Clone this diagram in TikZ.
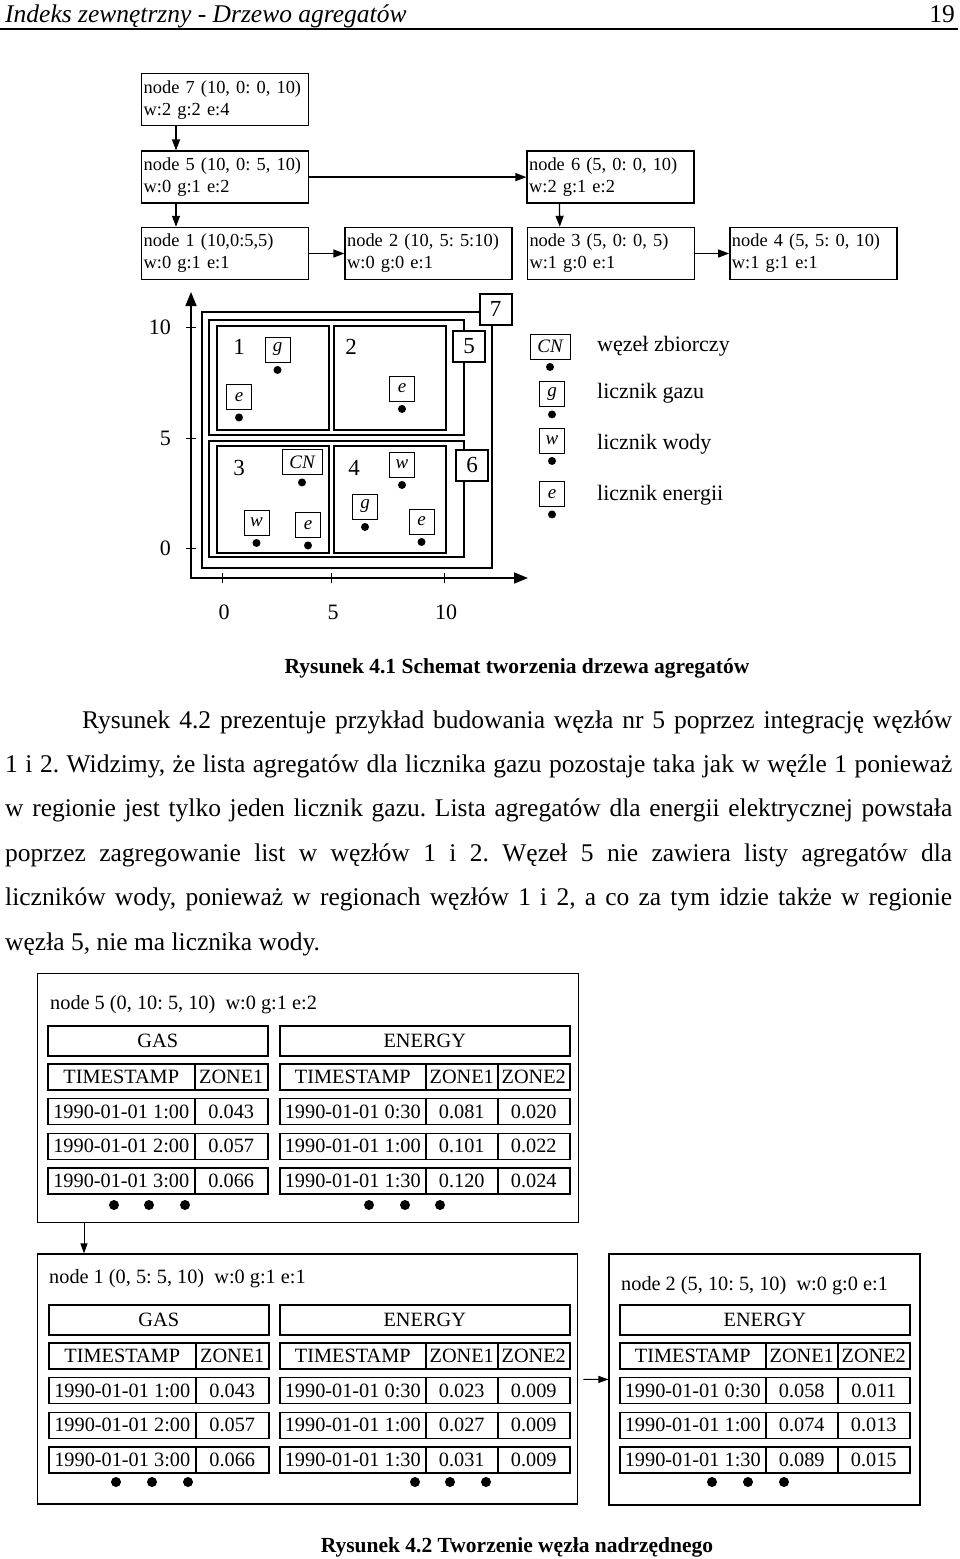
\documentclass[tikz,border=0pt]{standalone}
\usepackage{fontspec}
\setmainfont{Liberation Serif}
\usetikzlibrary{arrows.meta,positioning}
\frenchspacing
\newcommand{\meter}[5][]{%
  \node[meter,#1] (#2) at (#3,#4) {#5};
  \fill ([yshift=-7.5pt]#2.south) circle (4pt);}
\newcommand{\gastab}[3]{%
  \node[head,minimum width=220pt] (#1h) at (#2,#3) {GAS};
  \foreach \ts/\za [count=\rw from 0] in {TIMESTAMP/ZONE1,
      1990-01-01 1:00/0.043,1990-01-01 2:00/0.057,1990-01-01 3:00/0.066}{
    \node[cell,minimum width=147pt] (#1t\rw) at (#2,{#3+38+\rw*34.8}) {\ts};
    \node[cell,minimum width=73pt] (#1a\rw) at ({#2+147},{#3+38+\rw*34.8}) {\za};
  }}
\newcommand{\entab}[4]{%
  \node[head,minimum width=290pt] (#1h) at (#2,#3) {ENERGY};
  \foreach \ts/\za/\zb [count=\rw from 0] in {TIMESTAMP/ZONE1/ZONE2,#4}{
    \node[cell,minimum width=146pt] (#1t\rw) at (#2,{#3+38+\rw*34.8}) {\ts};
    \node[cell,minimum width=72pt] (#1a\rw) at ({#2+146},{#3+38+\rw*34.8}) {\za};
    \node[cell,minimum width=72pt] (#1b\rw) at ({#2+218},{#3+38+\rw*34.8}) {\zb};
  }}
\begin{document}
\begin{tikzpicture}[x=1pt,y=-1pt,
  txt/.style={inner sep=0pt},
  treebox/.style={draw,line width=1.4pt,minimum height=52pt,text width=163pt,
    inner xsep=2pt,inner ysep=0pt,align=left,
    font=\fontsize{18.4pt}{22pt}\selectfont\frenchspacing},
  arr/.style={-{Triangle[length=11pt,width=8pt]},line width=1.3pt},
  axis/.style={{Triangle[length=14pt,width=11pt]}-{Triangle[length=14pt,width=11pt]},
    line width=1.6pt},
  zone/.style={line width=1.3pt},
  group/.style={line width=2.2pt},
  lab/.style={draw,line width=2pt,fill=white,inner sep=0pt,minimum width=32pt,
    minimum height=31pt,font=\fontsize{23pt}{23pt}\selectfont},
  meter/.style={draw,line width=0.9pt,fill=white,inner sep=0pt,minimum width=25pt,
    minimum height=25pt,font=\fontsize{19pt}{19pt}\selectfont\itshape},
  bigbox/.style={draw,line width=1.4pt,inner sep=0pt,anchor=north west},
  cell/.style={draw,line width=1.5pt,inner sep=0pt,anchor=north west,
    minimum height=26pt,font=\fontsize{20.3pt}{22pt}\selectfont},
  head/.style={cell,minimum height=30pt},
  arrs/.style={-{Triangle[length=10pt,width=7pt]},line width=1pt}
]
\useasboundingbox (0,0) rectangle (960,1559);
\node[txt,anchor=base west,font=\fontsize{25.5pt}{30pt}\selectfont\itshape] (title)
      at (5,22) {Indeks zewnętrzny - Drzewo agregatów};
\node[txt,anchor=base east,font=\fontsize{25.5pt}{30pt}\selectfont] (pageno)
      at (955,22) {19};
\draw[line width=1.5pt] (0,29) -- (958,29);

\node[treebox,anchor=north west] (n7) at (141,73) {node 7 (10, 0: 0, 10)\\w:2 g:2 e:4};
\node[treebox,below=24pt of n7] (n5) {node 5 (10, 0: 5, 10)\\w:0 g:1 e:2};
\node[treebox,right=217pt of n5] (n6) {node 6 (5, 0: 0, 10)\\w:2 g:1 e:2};
\node[treebox,below=23pt of n5] (n1) {node 1 (10,0:5,5)\\w:0 g:1 e:1};
\node[treebox,right=35pt of n1] (n2) {node 2 (10, 5: 5:10)\\w:0 g:0 e:1};
\node[treebox,right=14pt of n2] (n3) {node 3 (5, 0: 0, 5)\\w:1 g:0 e:1};
\node[treebox,right=34pt of n3] (n4) {node 4 (5, 5: 0, 10)\\w:1 g:1 e:1};
\draw[arr] ([xshift=35pt]n7.south west) -- ([xshift=35pt]n5.north west);
\draw[arr] ([xshift=35pt]n5.south west) -- ([xshift=35pt]n1.north west);
\draw[arr] ([xshift=33pt]n6.south west) -- ([xshift=33pt]n3.north west);
\draw[arr] (n5) -- (n6);
\draw[arr] (n1) -- (n2);
\draw[arr] (n3) -- (n4);

\coordinate (orig) at (191,578);
\coordinate (ytip) at (191,292);
\coordinate (xtip) at (528,578);
\draw[axis] (ytip) -- (orig) -- (xtip);
\foreach \y/\l in {327/10,438/5,548/0}{
  \draw[line width=1pt] (186,\y) -- (196,\y);
  \node[txt,anchor=east,font=\fontsize{22pt}{22pt}\selectfont] (yl\l) at (171,\y) {\l};}
\foreach \x/\l in {222/0,331/5,444/10}{
  \draw[line width=1pt] (\x,573) -- (\x,583);
  \node[txt,font=\fontsize{22pt}{22pt}\selectfont] (xl\l) at (\x+2,612) {\l};}
\draw[group] (202,312) rectangle (492,568);
\draw[group] (209,320) rectangle (464,435);
\draw[group] (209,441) rectangle (464,557);
\draw[zone] (217,326) rectangle (329,430);
\draw[zone] (334,326) rectangle (446,430);
\draw[zone] (217,446) rectangle (329,553);
\draw[zone] (334,446) rectangle (446,553);
\node[lab] (l7) at (495.5,309) {7};
\node[lab] (l5) at (469,346.5) {5};
\node[lab] (l6) at (472,465) {6};
\foreach \n/\x/\y in {1/239/347,2/351/347,3/239/468,4/354/468}
  \node[txt,font=\fontsize{23pt}{23pt}\selectfont] (z\n) at (\x,\y) {\n};
\meter{m1g}{277.5}{349.5}{g}
\meter{m1e}{239}{397}{e}
\meter{m2e}{402}{388.5}{e}
\meter[minimum width=40pt]{m3c}{302}{462}{CN}
\meter{m3w}{256.5}{522.5}{w}
\meter{m3e}{308}{525}{e}
\meter{m4w}{402}{464.5}{w}
\meter{m4g}{365}{506.5}{g}
\meter{m4e}{421.5}{521.5}{e}
\meter[minimum width=40pt]{kc}{550}{346.5}{CN}
\meter{kg}{552}{394}{g}
\meter{kw}{552}{440.5}{w}
\meter{ke}{552}{494}{e}
\node[txt,anchor=base west,font=\fontsize{22pt}{22pt}\selectfont] (tc) at (597,351) {węzeł zbiorczy};
\node[txt,anchor=base west,font=\fontsize{22pt}{22pt}\selectfont] (tg) at (597,398) {licznik gazu};
\node[txt,anchor=base west,font=\fontsize{22pt}{22pt}\selectfont] (tw) at (597,449) {licznik wody};
\node[txt,anchor=base west,font=\fontsize{22pt}{22pt}\selectfont] (te) at (597,500) {licznik energii};

\node[txt,anchor=base,font=\fontsize{21.5pt}{22pt}\selectfont\bfseries] (cap1)
      at (517,673) {Rysunek 4.1 Schemat tworzenia drzewa agregatów};
\node[txt,anchor=base west,text width=947pt,align=justify,
      font=\fontsize{25.5pt}{44.4pt}\selectfont\frenchspacing] (par) at (5,728)
      {\hspace*{77pt}Rysunek 4.2 prezentuje przykład budowania węzła nr 5 poprzez integrację węzłów\linebreak
       1 i 2. Widzimy, że lista agregatów dla licznika gazu pozostaje taka jak w węźle 1 ponieważ\linebreak
       w regionie jest tylko jeden licznik gazu. Lista agregatów dla energii elektrycznej powstała\linebreak
       poprzez zagregowanie list w węzłów 1 i 2. Węzeł 5 nie zawiera listy agregatów dla\linebreak
       liczników wody, ponieważ w regionach węzłów 1 i 2, a co za tym idzie także w regionie\linebreak
       węzła 5, nie ma licznika wody.};

\node[bigbox,minimum width=541pt,minimum height=249pt] (big5) at (37,973) {};
\node[txt,anchor=base west,font=\fontsize{20.3pt}{22pt}\selectfont] (t5)
      at (50,1009) {node 5 (0, 10: 5, 10)\ \ w:0 g:1 e:2};
\gastab{g5}{47}{1025}
\entab{e5}{279}{1025}{1990-01-01 0:30/0.081/0.020,1990-01-01 1:00/0.101/0.022,
  1990-01-01 1:30/0.120/0.024}
\foreach \x in {114,149,185,369,405,440} \fill (\x,1205) circle (5pt);

\node[bigbox,minimum width=540pt,minimum height=250pt,
      below=30pt of big5.south west,anchor=north west] (big1) {};
\node[bigbox,minimum width=311pt,minimum height=251pt,
      right=30pt of big1.north east,anchor=north west] (big2) {};
\node[txt,anchor=base west,font=\fontsize{20.3pt}{22pt}\selectfont] (t1)
      at (49,1283) {node 1 (0, 5: 5, 10)\ \ w:0 g:1 e:1};
\node[txt,anchor=base west,font=\fontsize{20.3pt}{22pt}\selectfont] (t2)
      at (621,1290) {node 2 (5, 10: 5, 10)\ \ w:0 g:0 e:1};
\gastab{g1}{48}{1304}
\entab{e1}{279}{1304}{1990-01-01 0:30/0.023/0.009,1990-01-01 1:00/0.027/0.009,
  1990-01-01 1:30/0.031/0.009}
\entab{e2}{619}{1304}{1990-01-01 0:30/0.058/0.011,1990-01-01 1:00/0.074/0.013,
  1990-01-01 1:30/0.089/0.015}
\foreach \x in {116,152,188,415,450,486,712,748,784} \fill (\x,1482) circle (5pt);
\draw[arrs] ([xshift=47pt]big5.south west) -- ([xshift=47pt]big1.north west);
\draw[arrs,shorten <=5pt] (big1) -- (big2);

\node[txt,anchor=base,font=\fontsize{21.5pt}{22pt}\selectfont\bfseries] (cap2)
      at (517,1552) {Rysunek 4.2 Tworzenie węzła nadrzędnego};
\end{tikzpicture}
\end{document}
